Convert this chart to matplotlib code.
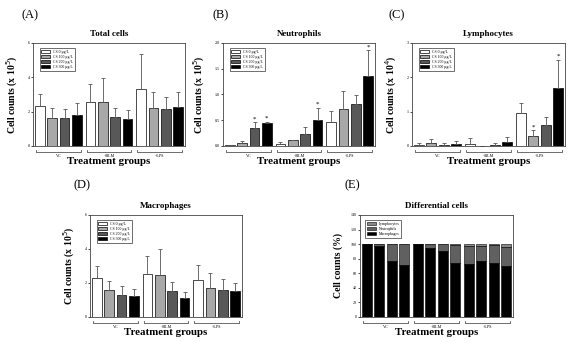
import numpy as np
import matplotlib
matplotlib.use("Agg")
import matplotlib.pyplot as plt

plt.rcParams['font.family'] = ['Liberation Serif', 'DejaVu Serif']

# data
groups = ["VC", "+BLM", "+LPS"]
doses = ["CS 0 \u03bcg/L", "CS 100 \u03bcg/L", "CS 200 \u03bcg/L", "CS 300 \u03bcg/L"]

total_mean = [2.32, 1.62, 1.62, 1.80, 2.54, 2.54, 1.70, 1.56, 3.32, 2.23, 2.17, 2.27]
total_sd = [0.73, 0.57, 0.53, 0.68, 1.05, 1.42, 0.49, 0.53, 2.03, 0.90, 0.70, 0.86]

neut_mean = [0.01, 0.06, 0.35, 0.44, 0.03, 0.11, 0.23, 0.51, 0.46, 0.72, 0.81, 1.35]
neut_sd = [0.00, 0.04, 0.11, 0.03, 0.05, 0.01, 0.14, 0.23, 0.22, 0.34, 0.18, 0.51]
neut_star = [2, 3, 7, 11]

lymph_mean = [0.04, 0.09, 0.04, 0.05, 0.06, 0.00, 0.04, 0.11, 0.95, 0.30, 0.62, 1.68]
lymph_sd = [0.05, 0.10, 0.04, 0.09, 0.16, 0.00, 0.04, 0.14, 0.31, 0.16, 0.23, 0.83]
lymph_star = [9, 11]

macro_mean = [2.31, 1.59, 1.27, 1.25, 2.52, 2.50, 1.53, 1.13, 2.18, 1.70, 1.59, 1.51]
macro_sd = [0.71, 0.50, 0.58, 0.38, 1.08, 1.52, 0.54, 0.34, 0.88, 0.90, 0.66, 0.51]

pct_macro = [100, 98, 77, 71, 100, 95, 91, 74, 73, 77, 74, 70]
pct_neut = [0, 2, 23, 29, 0, 5, 9, 25, 24, 21, 25, 26]
pct_lymph = [0, 0, 0, 0, 0, 0, 0, 1, 3, 2, 1, 4]

colors = ["white", "#a8a8a8", "#585858", "black"]
pos = np.array([g * 4.1 + i for g in range(3) for i in range(4)])

fig = plt.figure(figsize=(5.73, 3.42), dpi=100)


def px_ax(x0, y0, x1, y1):
    return fig.add_axes([x0 / 573, 1 - y1 / 342, (x1 - x0) / 573, (y1 - y0) / 342])


def brackets(ax):
    for g, name in enumerate(groups):
        a = pos[g * 4] - 0.3
        b = pos[g * 4 + 3] + 0.3
        ax.plot([a, a, b, b], [-0.035, -0.06, -0.06, -0.035], transform=ax.get_xaxis_transform(),
                color="#555555", lw=0.6, clip_on=False)
        ax.text((a + b) / 2, -0.08, name, transform=ax.get_xaxis_transform(),
                ha="center", va="top", fontsize=3)


def style(ax, title, ylabel, ymax, yticks, fmt):
    ax.set_ylim(0, ymax)
    ax.set_yticks(yticks)
    ax.set_yticklabels([fmt.format(v) for v in yticks], fontsize=3)
    ax.tick_params(axis="y", length=1.5, width=0.5, pad=1)
    ax.set_xticks([])
    ax.set_xlim(-0.55, pos[-1] + 0.55)
    for s in ax.spines.values():
        s.set_linewidth(0.6)
        s.set_color("#444444")
    ax.set_title(title, fontsize=6.5, fontweight="bold", pad=5)
    ax.set_ylabel(ylabel, fontsize=7, fontweight="bold", labelpad=5)
    ax.set_xlabel("Treatment groups", fontsize=7.8, fontweight="bold", labelpad=8)
    brackets(ax)


def bar_panel(ax, mean, sd, title, ylabel, ymax, yticks, fmt, stars=()):
    mean = np.array(mean)
    sd = np.array(sd)
    for i in range(4):
        idx = np.arange(i, 12, 4)
        ax.bar(pos[idx], mean[idx], width=0.8, color=colors[i], edgecolor="black",
               linewidth=0.5, label=doses[i])
        ax.errorbar(pos[idx], mean[idx], yerr=[np.zeros(3), sd[idx]], fmt="none",
                    ecolor="#555555", elinewidth=0.6, capsize=1.5, capthick=0.6)
    for s in stars:
        ax.text(pos[s], mean[s] + sd[s] + ymax * 0.01, "*", ha="center", va="bottom", fontsize=5)
    leg = ax.legend(loc="upper left", fontsize=2.8, frameon=True, fancybox=False,
                    handlelength=2.2, handleheight=0.6, borderpad=0.5, labelspacing=0.25,
                    bbox_to_anchor=(0.03, 0.97))
    leg.get_frame().set_edgecolor("black")
    leg.get_frame().set_linewidth(0.5)
    style(ax, title, ylabel, ymax, yticks, fmt)


axA = px_ax(33, 43, 185, 146)
bar_panel(axA, total_mean, total_sd, "Total cells", "Cell counts (x 10$^5$)",
          6, [0, 2, 4, 6], "{:g}")
axB = px_ax(223, 43, 375, 146)
bar_panel(axB, neut_mean, neut_sd, "Neutrophils", "Cell counts (x 10$^5$)",
          2.0, [0, 0.5, 1.0, 1.5, 2.0], "{:.1f}", neut_star)
axC = px_ax(412, 43, 565, 146)
bar_panel(axC, lymph_mean, lymph_sd, "Lymphocytes", "Cell counts (x 10$^4$)",
          3, [0, 1, 2, 3], "{:g}", lymph_star)
axD = px_ax(90, 215, 242, 317)
bar_panel(axD, macro_mean, macro_sd, "Macrophages", "Cell counts (x 10$^5$)",
          6, [0, 2, 4, 6], "{:g}")

# differential cells, stacked
axE = px_ax(360, 215, 513, 317)
m = np.array(pct_macro)
n = np.array(pct_neut)
l = np.array(pct_lymph)
axE.bar(pos, l, bottom=m + n, width=0.8, color="#8a8a8a", edgecolor="black", linewidth=0.4, label="Lymphocytes")
axE.bar(pos, n, bottom=m, width=0.8, color="#606060", edgecolor="black", linewidth=0.4, label="Neutrophils")
axE.bar(pos, m, width=0.8, color="black", edgecolor="black", linewidth=0.4, label="Macrophages")
leg = axE.legend(loc="upper left", fontsize=2.8, frameon=True, fancybox=False,
                 handlelength=2.2, handleheight=0.6, borderpad=0.5, labelspacing=0.25,
                 bbox_to_anchor=(0.02, 0.97))
leg.get_frame().set_edgecolor("black")
leg.get_frame().set_linewidth(0.5)
style(axE, "Differential cells", "Cell counts (%)", 140, list(range(0, 141, 20)), "{:d}")

for lab, x, y in [("(A)", 30, 15), ("(B)", 221, 15), ("(C)", 397, 15), ("(D)", 82, 185), ("(E)", 352, 185)]:
    fig.text(x / 573, 1 - y / 342, lab, ha="center", va="center", fontsize=9)

fig.savefig("out.png", dpi=100)
